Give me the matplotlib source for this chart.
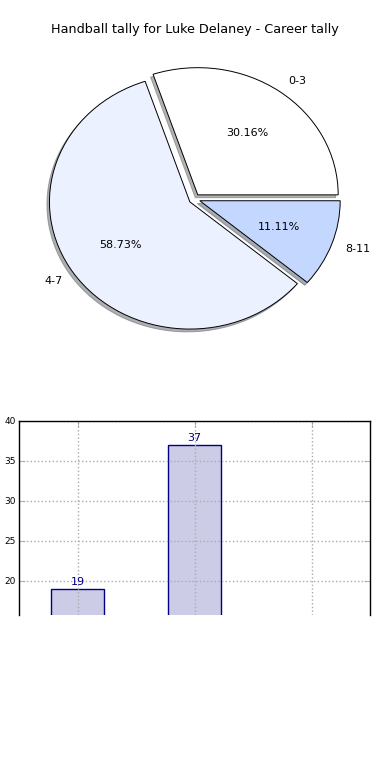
import matplotlib
matplotlib.use("Agg")
import matplotlib.pyplot as plt

# ---- data ----
title = "Handball tally for Luke Delaney - Career tally"
categories = ["0-3", "4-7", "8-11"]
counts = [19, 37, 7]
pie_colors = ["#FFFFFF", "#EBF1FE", "#C4D8FF"]
explode = [0.04, 0.04, 0.04]
y_ticks = [20, 25, 30, 35, 40]

W, H = 390, 780
fig = plt.figure(figsize=(W / 100, H / 100), dpi=100)
fig.patch.set_facecolor("white")

def px_axes(x0, y0, x1, y1):
    return fig.add_axes([x0 / W, 1 - y1 / H, (x1 - x0) / W, (y1 - y0) / H])

# ---- pie ----
ax1 = px_axes(19, 40, 370, 358)
wedges, texts, autotexts = ax1.pie(
    counts, labels=categories, colors=pie_colors, explode=explode,
    autopct="%1.2f%%", shadow=dict(ox=-0.013, oy=-0.016, shade=0.6),
    startangle=0,
    wedgeprops=dict(edgecolor="black", linewidth=0.7),
    textprops=dict(fontsize=8, color="black"),
)
ax1.set_aspect("auto")
ax1.set_xlim(-1.25, 1.25)
ax1.set_ylim(-1.25, 1.25)
ax1.axis("off")
fig.text(0.5, 1 - 30 / H, title, ha="center", va="center", fontsize=9.2)

# ---- bars ----
ax2 = px_axes(19, 421, 370, 615)
x = list(range(len(categories)))
bars = ax2.bar(x, counts, width=0.45, color="#CCCCE6", edgecolor="navy",
               linewidth=1.0, zorder=2)
for xi, c in zip(x, counts):
    ax2.text(xi, c + 0.3, str(c), ha="center", va="bottom", color="navy",
             fontsize=8, clip_on=True, zorder=3)
ax2.set_xlim(-0.5, 2.5)
ax2.set_ylim(15.75, 40)
ax2.set_xticks(x)
ax2.set_yticks(y_ticks)
ax2.set_yticklabels([str(t) for t in y_ticks], fontsize=6.5)
ax2.grid(True, linestyle=":", color="#aaaaaa", linewidth=1.0, zorder=0)
ax2.set_axisbelow(False)
ax2.tick_params(axis="both", direction="in", length=4, width=0.5,
                top=True, right=True, bottom=False, labelbottom=False,
                color="#999999", pad=2)
ax2.spines["bottom"].set_visible(False)
for s in ["left", "right", "top"]:
    ax2.spines[s].set_linewidth(1.0)
    ax2.spines[s].set_zorder(6)

fig.savefig("out.png", dpi=100)
